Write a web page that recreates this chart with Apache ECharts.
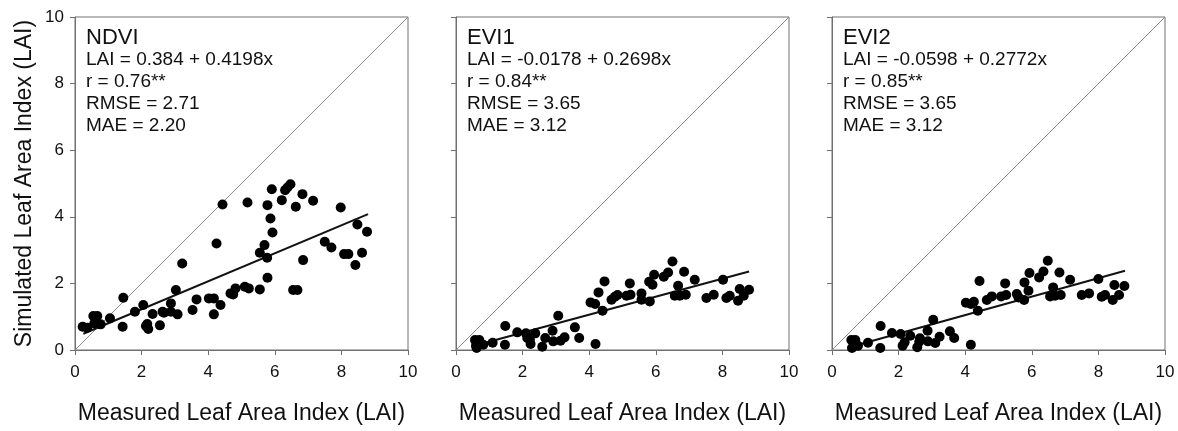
<!DOCTYPE html>
<html><head><meta charset="utf-8">
<script src="https://cdn.jsdelivr.net/npm/echarts@6/dist/echarts.min.js"></script>
<style>html,body{margin:0;padding:0;background:#fff}#c{width:1178px;height:431px}</style>
</head><body><div id="c"></div>
<script>
const panelNames = ['NDVI', 'EVI1', 'EVI2'];
const statLines = [
  ['LAI = 0.384 + 0.4198x', 'r = 0.76**', 'RMSE = 2.71', 'MAE = 2.20'],
  ['LAI = -0.0178 + 0.2698x', 'r = 0.84**', 'RMSE = 3.65', 'MAE = 3.12'],
  ['LAI = -0.0598 + 0.2772x', 'r = 0.85**', 'RMSE = 3.65', 'MAE = 3.12']
];
const intercepts = [0.384, -0.0178, -0.0598];
const slopes = [0.4198, 0.2698, 0.2772];
const fitStart = [0.25, 0.6, 0.6];
const fitEnd = [8.8, 8.8, 8.8];
const axisTicks = [0, 2, 4, 6, 8, 10];
const xTitle = 'Measured Leaf Area Index (LAI)';
const yTitle = 'Simulated Leaf Area Index (LAI)';

const ndviX = [0.23,0.37,0.55,0.67,0.58,0.77,1.05,1.45,1.43,1.80,2.05,2.13,2.17,2.20,2.33,2.55,2.63,2.67,2.88,2.88,3.03,3.08,3.22,3.53,3.65,4.02,4.17,4.17,4.25,4.37,4.43,4.67,4.75,4.82,5.10,5.22,5.18,5.55,5.55,5.69,5.77,5.78,5.78,5.87,5.93,5.91,6.21,6.31,6.38,6.47,6.55,6.68,6.63,6.83,6.85,7.15,7.50,7.70,7.98,8.08,8.21,8.42,8.48,8.62,8.77];
const ndviY = [0.70,0.67,1.02,1.02,0.80,0.77,0.95,1.57,0.70,1.15,1.35,0.72,0.78,0.63,1.08,0.74,1.15,1.12,1.15,1.40,1.80,1.07,2.60,1.20,1.52,1.55,1.55,1.07,3.20,1.35,4.37,1.70,1.67,1.85,1.90,1.85,4.43,1.82,2.92,3.15,2.77,2.17,4.35,3.95,3.53,4.83,4.50,4.80,4.88,4.98,1.80,1.80,4.30,4.68,2.70,4.48,3.25,3.08,4.28,2.88,2.88,2.55,3.77,2.92,3.55];

const evi1X = [0.57,0.62,0.70,0.67,0.60,0.82,1.10,1.48,1.47,1.84,2.10,2.14,2.22,2.24,2.38,2.59,2.68,2.90,2.92,3.07,3.14,3.26,3.57,3.70,4.04,4.18,4.19,4.28,4.40,4.46,4.67,4.77,4.85,5.12,5.24,5.22,5.57,5.57,5.82,5.80,5.90,5.95,6.24,6.37,6.50,6.57,6.67,6.72,6.90,6.85,7.17,7.52,7.74,8.02,8.12,8.22,8.47,8.52,8.64,8.80];
const evi1Y = [0.30,0.06,0.30,0.16,0.13,0.16,0.22,0.72,0.16,0.53,0.50,0.36,0.31,0.18,0.50,0.10,0.36,0.58,0.26,1.03,0.28,0.38,0.68,0.36,1.43,1.38,0.18,1.73,1.18,2.06,1.51,1.60,1.65,1.63,1.66,2.00,1.70,1.51,1.46,2.05,1.96,2.26,2.20,2.33,2.66,1.63,1.93,1.63,1.66,2.35,2.11,1.56,1.66,2.11,1.56,1.63,1.48,1.83,1.63,1.81];

const evi2X = [0.58,0.60,0.70,0.68,0.78,1.08,1.46,1.45,1.80,2.06,2.12,2.18,2.35,2.56,2.64,2.62,2.87,2.88,3.04,3.10,3.23,3.54,3.67,4.02,4.17,4.26,4.17,4.38,4.43,4.65,4.80,5.08,5.23,5.20,5.55,5.60,5.77,5.78,5.90,5.93,6.22,6.35,6.48,6.55,6.64,6.70,6.87,6.83,7.15,7.50,7.72,8.00,8.10,8.20,8.43,8.48,8.62,8.78];
const evi2Y = [0.30,0.06,0.30,0.18,0.13,0.22,0.72,0.06,0.51,0.48,0.13,0.23,0.43,0.08,0.35,0.25,0.58,0.26,0.91,0.21,0.40,0.56,0.36,1.42,1.38,1.45,0.16,1.18,2.07,1.50,1.61,1.61,1.65,2.00,1.68,1.58,1.50,2.03,1.78,2.31,2.18,2.36,2.68,1.61,1.88,1.63,1.65,2.33,2.11,1.65,1.70,2.13,1.60,1.65,1.50,1.95,1.65,1.92];

const xs = [ndviX, evi1X, evi2X];
const ys = [ndviY, evi1Y, evi2Y];

const FONT = "'Liberation Sans', Arial, sans-serif";
const gridLefts = [75, 456, 832];
const gridW = 333, gridTop = 17, gridBottom = 81;

const grids = [], xAxes = [], yAxes = [], series = [], graphics = [];
for (let i = 0; i < 3; i++) {
  grids.push({left: gridLefts[i], width: gridW, top: gridTop, bottom: gridBottom, show: true, borderColor: '#707070', borderWidth: 1, backgroundColor: 'transparent', containLabel: false});
  xAxes.push({
    gridIndex: i, type: 'value', min: axisTicks[0], max: axisTicks[axisTicks.length-1], interval: 2,
    name: xTitle, nameLocation: 'middle', nameGap: 52,
    nameTextStyle: {fontFamily: FONT, fontSize: 23, color: '#111'},
    axisLine: {show: true, onZero: false, lineStyle: {color: '#707070', width: 1}},
    axisTick: {show: true, inside: false, length: 5, lineStyle: {color: '#707070'}},
    axisLabel: {show: true, margin: 14, fontFamily: FONT, fontSize: 17, color: '#111'},
    splitLine: {show: false}
  });
  yAxes.push({
    gridIndex: i, type: 'value', min: axisTicks[0], max: axisTicks[axisTicks.length-1], interval: 2,
    name: i === 0 ? yTitle : '', nameLocation: 'middle', nameGap: 39,
    nameTextStyle: {fontFamily: FONT, fontSize: 23, color: '#111'},
    axisLine: {show: true, onZero: false, lineStyle: {color: '#707070', width: 1}},
    axisTick: {show: true, inside: false, length: 5, lineStyle: {color: '#707070'}},
    axisLabel: {show: i === 0, margin: 11, fontFamily: FONT, fontSize: 17, color: '#111'},
    splitLine: {show: false}
  });
  series.push({
    type: 'line', xAxisIndex: i, yAxisIndex: i, silent: true, symbol: 'none',
    data: [[axisTicks[0], axisTicks[0]], [axisTicks[axisTicks.length-1], axisTicks[axisTicks.length-1]]],
    lineStyle: {color: '#8a8a8a', width: 1}, z: 1
  });
  series.push({
    type: 'line', xAxisIndex: i, yAxisIndex: i, silent: true, symbol: 'none',
    data: [[fitStart[i], intercepts[i] + slopes[i]*fitStart[i]], [fitEnd[i], intercepts[i] + slopes[i]*fitEnd[i]]],
    lineStyle: {color: '#111', width: 2}, z: 2
  });
  series.push({
    type: 'scatter', xAxisIndex: i, yAxisIndex: i, symbol: 'circle', symbolSize: 10,
    itemStyle: {color: '#000', opacity: 1}, data: xs[i].map((v, k) => [v, ys[i][k]]), z: 3
  });
  const tx = gridLefts[i] + 11;
  graphics.push({type: 'text', left: tx, top: 27, style: {text: panelNames[i], font: '22px ' + FONT, fill: '#111'}});
  statLines[i].forEach((s, k) => {
    graphics.push({type: 'text', left: tx, top: 50 + k*22, style: {text: s, font: '19px ' + FONT, fill: '#111'}});
  });
}

const chart = echarts.init(document.getElementById('c'), null, {renderer: 'canvas'});
chart.setOption({
  animation: false,
  grid: grids, xAxis: xAxes, yAxis: yAxes, series: series, graphic: graphics
});
</script></body></html>
